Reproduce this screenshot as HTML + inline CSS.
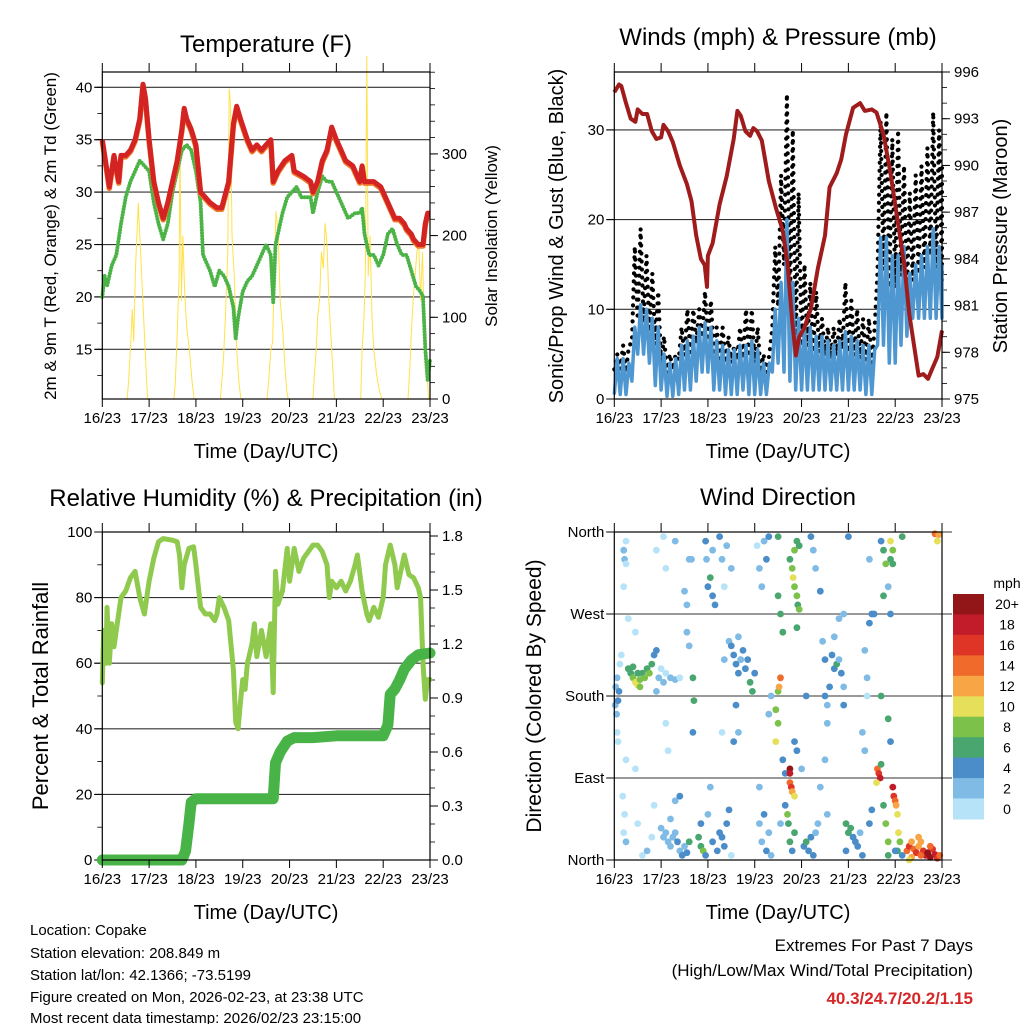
<!DOCTYPE html>
<html><head><meta charset="utf-8"><style>
html,body{margin:0;padding:0;background:#fff;}
svg text{font-family:"Liberation Sans",Arial,sans-serif;fill:#000;}
</style></head><body>
<svg id="fig" xmlns="http://www.w3.org/2000/svg" width="1024" height="1024" viewBox="0 0 1024 1024">
<rect width="1024" height="1024" fill="#fff"/>
<g id="layer"></g>
<text x="266" y="52" font-size="24" text-anchor="middle">Temperature (F)</text>
<text x="778" y="45" font-size="24" text-anchor="middle">Winds (mph) &amp; Pressure (mb)</text>
<text x="266" y="506" font-size="24" text-anchor="middle">Relative Humidity (%) &amp; Precipitation (in)</text>
<text x="778" y="505" font-size="24" text-anchor="middle">Wind Direction</text>
<text x="266" y="458" font-size="20" text-anchor="middle">Time (Day/UTC)</text>
<text x="778" y="458" font-size="20" text-anchor="middle">Time (Day/UTC)</text>
<text x="266" y="919" font-size="20" text-anchor="middle">Time (Day/UTC)</text>
<text x="778" y="919" font-size="20" text-anchor="middle">Time (Day/UTC)</text>
<text transform="translate(56,236) rotate(-90)" font-size="17" text-anchor="middle">2m &amp; 9m T (Red, Orange) &amp; 2m Td (Green)</text>
<text transform="translate(497,236) rotate(-90)" font-size="17" text-anchor="middle">Solar Insolation (Yellow)</text>
<text transform="translate(563,236) rotate(-90)" font-size="20" text-anchor="middle">Sonic/Prop Wind &amp; Gust (Blue, Black)</text>
<text transform="translate(1007,236) rotate(-90)" font-size="20" text-anchor="middle">Station Pressure (Maroon)</text>
<text transform="translate(48,696) rotate(-90)" font-size="22" text-anchor="middle">Percent &amp; Total Rainfall</text>
<text transform="translate(541,696) rotate(-90)" font-size="21" text-anchor="middle">Direction (Colored By Speed)</text>
<g font-size="15">
<text x="30" y="935">Location: Copake</text>
<text x="30" y="958">Station elevation: 208.849 m</text>
<text x="30" y="980">Station lat/lon: 42.1366; -73.5199</text>
<text x="30" y="1002">Figure created on Mon, 2026-02-23, at 23:38 UTC</text>
<text x="30" y="1023">Most recent data timestamp: 2026/02/23 23:15:00</text>
</g>
<g font-size="17" text-anchor="end">
<text x="973" y="951">Extremes For Past 7 Days</text>
<text x="973" y="976">(High/Low/Max Wind/Total Precipitation)</text>
<text x="973" y="1004" fill="#d62728" style="fill:#d62728;font-weight:bold">40.3/24.7/20.2/1.15</text>
</g>
</svg>
<script>
// ---------- data ----------
const dayLabels=["16/23","17/23","18/23","19/23","20/23","21/23","22/23","23/23"];
const tempDays=[0,0.1,0.15,0.25,0.35,0.4,0.5,0.6,0.7,0.8,0.87,0.92,1.0,1.1,1.2,1.3,1.4,1.5,1.6,1.7,1.75,1.8,1.9,2.0,2.1,2.3,2.45,2.55,2.7,2.8,2.87,2.95,3.1,3.2,3.3,3.4,3.5,3.6,3.65,3.75,3.9,4.05,4.1,4.3,4.45,4.5,4.6,4.7,4.8,4.9,5.0,5.1,5.2,5.35,5.45,5.5,5.55,5.6,5.7,5.8,5.95,6.05,6.15,6.25,6.35,6.45,6.5,6.6,6.65,6.75,6.85,6.9,6.95,7.0];
const tempVals=[35,32,30.5,33.5,31,33.5,33.5,34,35,37,40.3,39,35,31,29,27.5,29,31,33,36,38,37,36,34.5,30,29,28.5,28.5,31,36.5,38.2,37,35,34,34.5,34,34.5,35,31,32,33,33.5,32,31.5,31,30,31,33,34,36.2,35,34,33,32.5,31.5,31,32.5,31,31,31,30.5,29.5,28.5,27.5,27.5,27,26.5,26,25.5,25,25,27,28,28];
const dewDays=[0,0.05,0.1,0.2,0.3,0.4,0.5,0.6,0.7,0.8,0.9,1.0,1.1,1.2,1.3,1.4,1.5,1.6,1.7,1.8,1.9,2.0,2.1,2.15,2.3,2.4,2.5,2.6,2.7,2.8,2.85,2.9,3.0,3.1,3.2,3.3,3.4,3.5,3.6,3.65,3.7,3.75,3.85,3.95,4.05,4.15,4.25,4.35,4.45,4.5,4.6,4.7,4.8,4.9,5.0,5.1,5.25,5.4,5.5,5.55,5.6,5.7,5.8,5.9,6.0,6.1,6.2,6.3,6.4,6.5,6.6,6.7,6.8,6.85,6.9,6.95,7.0];
const dewVals=[20,22,21,23,24,27,29.5,31,32,33,32.5,32,29,27,25.5,27,30,32,34,34.5,34,32,29,24,22.5,21,22.5,22,21,19,16,18,20.5,21.5,22,23,24,25,24,19.5,25,26,28,29.5,30,30.5,29.5,29.5,29.5,28,30,31.5,31,31,30,29,27.5,28,28,28.5,26,24,24,23,24,26,26.5,25,24,24,22.5,21,20.5,20,15,12,14];
const solarDays=[0.53,0.56,0.6,0.64,0.67,0.71,0.77,0.8,0.85,0.9,0.94,0.97,1.53,1.56,1.6,1.64,1.66,1.69,1.72,1.76,1.8,1.86,1.92,1.96,2.52,2.55,2.59,2.63,2.68,2.71,2.74,2.77,2.82,2.87,2.92,2.96,3.52,3.55,3.6,3.64,3.67,3.71,3.76,3.8,3.86,3.9,3.94,3.97,4.5,4.53,4.57,4.6,4.64,4.68,4.72,4.76,4.8,4.84,4.9,4.96,5.52,5.55,5.59,5.62,5.65,5.68,5.72,5.76,5.8,5.86,5.92,5.97,6.53,6.57,6.6,6.64,6.68,6.72,6.76,6.8,6.84,6.88,6.93,6.97];
const solarVals=[0,20,60,110,70,160,240,200,140,80,30,0,0,20,80,150,310,120,200,130,90,60,20,0,0,20,50,100,180,380,360,200,150,60,20,0,0,20,60,70,150,230,200,120,80,40,10,0,0,30,60,100,120,180,160,215,190,120,60,0,0,60,100,160,420,150,200,100,60,30,10,0,0,40,80,120,150,180,190,120,180,80,40,0];
const presDays=[0,0.1,0.15,0.25,0.35,0.45,0.5,0.6,0.7,0.8,0.9,1.0,1.05,1.15,1.25,1.4,1.55,1.65,1.75,1.85,1.93,1.98,2.0,2.1,2.25,2.4,2.55,2.63,2.7,2.8,2.9,2.97,3.05,3.15,3.3,3.45,3.6,3.7,3.8,3.88,3.95,4.05,4.2,4.35,4.5,4.6,4.75,4.85,4.95,5.1,5.25,5.35,5.5,5.6,5.75,5.9,6.0,6.1,6.2,6.3,6.4,6.5,6.6,6.7,6.8,6.9,7.0];
const presVals=[994.7,995.2,995.1,994,993,992.8,993.6,993.3,993.3,992.2,991.7,991.8,992.6,992.2,991.5,990,988.8,987.7,985.5,984,983.6,982.2,984.2,985,987.5,989.3,991.7,993.5,993.2,992.2,991.9,992.4,992.2,991.6,989,987.3,985.8,983.7,980,977.8,979,979.5,980.8,983.4,985.5,988.6,989.5,990.4,992,993.7,994,993.5,993.6,993.4,992,989.5,987.5,985.5,983.5,980.5,978.5,976.5,976.6,976.3,977,977.7,979.4];
const windHi=[4.5,4.5,4,8,10.5,10,9,8,5,4,4.5,6,6.5,7,8,8.5,8,6.5,6,5.5,5.5,6,6,6.5,5.5,4,4,10,13,20,13,9,8,8,7,7,6.5,6,6.5,7.5,7,6.5,6,6,5.5,18,18,16,16,17,14,15,16,17,19,17,15];
const windLo=[0.5,0.5,0.5,2,5,5,4,1.5,1,0.3,0.3,0.5,1,1,2,3,3,1,1,0.5,0.5,0.5,1,0.5,0.5,0.5,0.5,3,4,3,2,1,1,1,1,1,1,1,1,1,1,1,1,0.5,0.5,6,6,4,4,6,7,9,9,9,9,9,9];
const gustHi=[5,6,6,17,19,16,14,12,7,5,5,8,10,10,10,12,11,8,8,7,6,8,10,10,8,5,5,17,25,34,30,23,15,13,12,9,8,8,9,13,11,10,9,9,8,31,32,29,30,26,23,25,26,28,32,30,26];
const rhDays=[0,0.03,0.08,0.1,0.15,0.2,0.25,0.3,0.4,0.5,0.6,0.7,0.8,0.9,1.0,1.1,1.2,1.3,1.5,1.6,1.65,1.7,1.75,1.85,1.95,2.0,2.1,2.2,2.3,2.4,2.45,2.5,2.6,2.7,2.8,2.85,2.9,2.95,3.0,3.05,3.1,3.2,3.25,3.3,3.4,3.5,3.6,3.65,3.7,3.75,3.85,3.95,4.0,4.1,4.2,4.3,4.4,4.5,4.6,4.7,4.8,4.85,4.9,5.0,5.1,5.2,5.3,5.4,5.45,5.55,5.65,5.7,5.8,5.9,6.0,6.05,6.15,6.25,6.3,6.45,6.55,6.65,6.75,6.8,6.85,6.9,6.95,7.0];
const rhVals=[54,70,60,77,60,72,65,70,80,82,86,88,80,75,85,92,97,98,97.5,97,93,83,90,95,95.5,90,77,75,75,73,75,80,77,73,58,42,40,48,55,52,60,66,72,62,70,62,72,51,88,78,82,95,85,95,88,92,94,96,96,94,90,80,85,83,85,82,85,90,93,82,75,73,77,74,80,90,96,90,83,93,87,86,83,80,60,49,55,55];
const rainDays=[0,1.7,1.78,1.85,1.9,2.0,3.65,3.7,3.8,3.95,4.1,4.5,5.0,6.0,6.1,6.15,6.25,6.35,6.45,6.6,6.75,7.0];
const rainVals=[0,0,0.05,0.2,0.32,0.34,0.34,0.54,0.6,0.66,0.68,0.68,0.69,0.69,0.75,0.92,0.95,1.0,1.06,1.11,1.14,1.15];
const dirObs=[[0.02,170,3],[0.03,190,3],[0.05,160,2],[0.06,200,3],[0.08,175,4],[0.1,185,4],[0.06,140,1],[0.08,130,1],[0.12,215,1],[0.15,225,1],[0.2,300,1],[0.22,330,2],[0.25,350,1],[0.25,325,1],[0.2,340,2],[0.18,70,1],[0.22,50,1],[0.25,20,2],[0.2,30,1],[0.25,110,1],
[0.3,210,6],[0.35,205,7],[0.4,200,8],[0.45,195,10],[0.5,192,10],[0.55,198,8],[0.6,205,7],[0.65,200,8],[0.7,210,6],[0.4,212,6],[0.5,205,6],[0.55,190,9],[0.75,205,8],[0.8,215,7],[0.85,225,4],[0.9,230,4],[0.9,185,2],[0.45,250,1],[0.45,100,1],[0.5,40,1],[0.6,5,1],[0.7,10,2],[0.8,25,1],[0.85,60,1],[0.9,340,1],[0.3,265,1],
[0.95,200,2],[1.0,210,1],[1.05,195,2],[1.1,205,1],[1.2,200,2],[1.3,198,2],[1.4,200,1],[1.0,35,2],[1.05,25,3],[1.1,30,2],[1.15,20,2],[1.2,15,3],[1.25,25,2],[1.3,30,3],[1.35,20,4],[1.4,10,3],[1.45,5,4],[1.5,15,3],[1.55,8,4],[1.6,20,6],[1.2,45,2],[1.3,65,2],[1.4,70,4],[1.1,150,1],[1.15,120,1],[1.3,350,2],[1.05,355,1],[1.1,320,1],[1.5,295,2],[1.55,280,2],[1.6,330,3],[1.55,250,3],[1.6,235,2],[1.68,200,6],[1.7,175,6],[1.68,140,4],[1.65,330,2],
[1.8,25,6],[1.85,15,7],[1.9,10,8],[1.95,5,4],[1.85,40,4],[2.0,50,2],[2.05,80,2],[2.1,20,4],[2.2,10,4],[2.25,30,5],[2.3,25,4],[2.35,15,5],[2.4,40,4],[2.45,55,4],[1.95,350,4],[1.97,330,3],[2.0,300,4],[2.05,310,6],[2.1,290,4],[2.15,280,4],[2.1,340,3],[2.25,355,4],[2.3,330,3],[2.4,345,3],[2.35,300,1],[2.5,320,2],[2.5,5,1],[2.3,140,1],[2.35,220,3],[2.45,240,3],[2.5,235,4],[2.55,225,4],[2.6,215,4],[2.65,205,4],[2.7,220,3],[2.75,230,4],[2.8,210,4],[2.85,220,4],[2.9,195,7],[2.95,185,6],[3.0,205,4],[2.6,170,4],[2.65,140,3],[2.55,130,4],[2.7,220,2],[2.65,245,2],
[3.05,345,1],[3.1,320,3],[3.15,300,2],[3.2,350,3],[3.25,330,4],[3.3,355,4],[3.1,80,3],[3.1,40,2],[3.15,20,2],[3.2,50,4],[3.25,10,4],[3.3,30,3],[3.35,5,2],[3.3,160,3],[3.35,180,3],[3.45,165,8],[3.45,130,10],[3.5,185,8],[3.5,150,8],[3.55,200,14],[3.52,190,12],[3.55,270,6],[3.6,250,6],[3.6,110,4],[3.65,95,4],[3.65,60,4],[3.5,290,6],[3.5,355,6],[3.55,40,2],
[3.75,100,20],[3.75,95,18],[3.75,85,14],[3.78,80,16],[3.8,75,12],[3.85,70,10],[3.7,50,8],[3.72,40,6],[3.75,20,6],[3.8,10,4],[3.85,30,6],[3.75,330,6],[3.8,320,8],[3.85,300,8],[3.9,290,8],[3.92,280,6],[3.95,275,8],[3.85,340,8],[3.9,350,6],[3.95,345,6],[3.9,255,6],[3.82,310,10],[3.85,130,4],[3.9,120,4],[4.0,100,2],
[4.05,15,4],[4.1,20,6],[4.15,10,4],[4.2,25,4],[4.25,5,4],[4.3,30,2],[4.35,40,2],[4.1,180,4],[4.2,355,4],[4.25,340,2],[4.3,320,2],[4.4,295,4],[4.45,240,2],[4.5,220,4],[4.5,180,4],[4.55,170,3],[4.6,190,4],[4.55,150,3],[4.4,80,3],[4.5,110,2],[4.55,50,2],
[4.65,225,4],[4.7,210,4],[4.75,215,6],[4.8,220,3],[4.85,205,4],[4.9,190,3],[4.9,170,4],[4.8,265,3],[4.7,245,2],[4.95,40,6],[5.0,30,6],[5.05,35,6],[5.1,25,5],[5.15,20,4],[5.2,15,4],[5.25,30,3],[5.3,5,4],[4.95,10,4],[4.9,270,3],[5.0,355,4],[5.3,140,2],[5.35,120,3],
[5.35,230,2],[5.4,200,2],[5.45,260,4],[5.4,180,1],[5.45,40,4],[5.5,55,4],[5.45,330,2],[5.5,270,4],[5.55,270,4],[5.62,100,14],[5.65,95,16],[5.68,90,18],[5.6,85,10],[5.7,105,6],[5.75,60,6],[5.8,40,8],[5.85,20,8],[5.85,5,6],[5.7,350,4],[5.75,340,6],[5.8,325,8],[5.75,290,6],[5.85,300,3],[5.9,270,4],[5.9,350,10],[5.95,340,8],[5.9,330,6],[5.95,325,6],[5.7,180,6],[5.85,155,6],[5.9,130,4],
[5.95,80,18],[5.97,70,16],[6.0,65,14],[6.02,60,12],[6.05,50,10],[6.07,30,10],[6.1,20,8],[6.05,10,6],[6.15,5,4],[6.15,355,6],[6.0,10,4],
[6.25,10,14],[6.3,15,16],[6.35,20,12],[6.4,12,14],[6.45,8,16],[6.5,15,12],[6.55,20,12],[6.6,10,16],[6.65,5,18],[6.7,8,20],[6.75,3,20],[6.8,12,16],[6.85,6,18],[6.9,2,16],[6.95,5,14],[6.35,3,12],[6.55,5,14],[6.75,15,14],[6.85,358,14],[6.9,350,10],[6.93,357,12],[6.3,0,10],[6.5,25,12]];
const speedLabels=["20+","18","16","14","12","10","8","6","4","2","0"];
const speedColors=["#921518","#c21b2a","#de3527","#ef6a2b","#f7a545","#e6df5a","#7cc24a","#49a66f","#4a8dc8","#7fbbe5","#b7e3f8"];

// ---------- helpers ----------
const NS="http://www.w3.org/2000/svg";
const layer=document.getElementById('layer');
function mk(tag,attrs,parent){const e=document.createElementNS(NS,tag);for(const k in attrs)e.setAttribute(k,attrs[k]);(parent||layer).appendChild(e);return e;}
function lin(d0,d1,r0,r1){return v=>r0+(v-d0)*(r1-r0)/(d1-d0);}
function pathOf(xs,ys,fx,fy){return xs.map((d,i)=>(i?'L':'M')+fx(d).toFixed(1)+','+fy(ys[i]).toFixed(1)).join('');}

function frame(x0,x1,y0,y1,name){
  const g=mk('g',{});
  
  
  mk('rect',{x:x0,y:y0,width:x1-x0,height:y1-y0,fill:'none',stroke:'#000','stroke-width':1.2},g);
  const fx=lin(0,7,x0,x1);
  dayLabels.forEach((lab,i)=>{
    const x=fx(i);
    mk('line',{x1:x,x2:x,y1:y1,y2:y1+8,stroke:'#000'},g);
    mk('line',{x1:x,x2:x,y1:y0,y2:y0-9,stroke:'#000'},g);
    const t=mk('text',{x:x,y:y1+24,'font-size':15,'text-anchor':'middle'},g);
    t.textContent=lab;
    
    
  });
  return fx;
}
function yTicks(vals,labels,fy,x0,x1,side,grid,g){
  vals.forEach((v,i)=>{
    const y=fy(v);
    if(grid) mk('line',{x1:x0-8,x2:x1,y1:y,y2:y,stroke:'#333','stroke-width':1.1},g);
    if(side==='L'){mk('line',{x1:x0-8,x2:x0,y1:y,y2:y,stroke:'#000'},g);}
    else{mk('line',{x1:x1,x2:x1+8,y1:y,y2:y,stroke:'#000'},g);}
    const t=mk('text',{x:side==='L'?x0-10:x1+12,y:y+5,'font-size':15,'text-anchor':side==='L'?'end':'start'},g);
    t.textContent=labels[i];
    
    
  });
}
function minor(vals,fy,x,dir,g){vals.forEach(v=>{const y=fy(v);mk('line',{x1:x,x2:x+dir*5,y1:y,y2:y,stroke:'#000','stroke-width':0.8},g);});}
function range(a,b,s){const r=[];for(let v=a;v<=b+1e-9;v+=s)r.push(+v.toFixed(3));return r;}

// ---------- Panel 1: temperature ----------
(function(){
  const x0=102.3,x1=430,y0=72,y1=399;
  const fx=lin(0,7,x0,x1), fT=lin(10.26,41.46,y1,y0), fS=lin(0,400,y1,y1-326.8);
  const g=mk('g',{});
  
  
  yTicks([15,20,25,30,35,40],["15","20","25","30","35","40"],fT,x0,x1,'L',true,g);
  yTicks([0,100,200,300],["0","100","200","300"],fS,x0,x1,'R',false,g);
  minor(range(12.5,40,2.5),fT,x0,-1,g);
  minor(range(20,400,20),fS,x1,1,g);
  const s=mk('path',{d:pathOf(solarDays,solarVals,fx,fS),fill:'none',stroke:'#ffe14a','stroke-width':1},g);
  
  
  const d=mk('path',{d:pathOf(dewDays,dewVals,fx,fT),fill:'none',stroke:'#4cb447','stroke-width':4,'stroke-dasharray':'0 3','stroke-linecap':'round','stroke-linejoin':'round'},g);
  
  
  const o=mk('path',{d:pathOf(tempDays,tempVals,fx,fT),fill:'none',stroke:'#f07a2a','stroke-width':5.5,'stroke-linejoin':'round',transform:'translate(0,1.5)'},g);
  
  
  const r=mk('path',{d:pathOf(tempDays,tempVals,fx,fT),fill:'none',stroke:'#d42323','stroke-width':5,'stroke-linejoin':'round'},g);
  
  
  frame(x0,x1,y0,y1,'temperature');
})();

// ---------- Panel 2: wind & pressure ----------
(function(){
  const x0=614.3,x1=942,y0=72,y1=399;
  const fx=lin(0,7,x0,x1), fW=lin(0,10,y1,y1-89.7), fP=lin(975,996,y1,y0);
  const g=mk('g',{});
  
  
  yTicks([0,10,20,30],["0","10","20","30"],fW,x0,x1,'L',true,g);
  yTicks([975,978,981,984,987,990,993,996],["975","978","981","984","987","990","993","996"],fP,x0,x1,'R',false,g);
  minor(range(976,995,1),fP,x1,1,g);
  const step=7/(windHi.length-1);
  let gd='',wd='';
  windHi.forEach((h,i)=>{
    const t=i*step;
    gd+=(i?'L':'M')+fx(t).toFixed(1)+','+fW(windLo[i]+(h-windLo[i])*0.7).toFixed(1)+'L'+fx(Math.min(7,t+step/2)).toFixed(1)+','+fW(gustHi[i]).toFixed(1);
    wd+=(i?'L':'M')+fx(t).toFixed(1)+','+fW(windLo[i]).toFixed(1)+'L'+fx(Math.min(7,t+step/2)).toFixed(1)+','+fW(h).toFixed(1);
  });
  const gp=mk('path',{d:gd,fill:'none',stroke:'#000','stroke-width':4.2,'stroke-dasharray':'0 8','stroke-linecap':'round'},g);
  
  
  const wp=mk('path',{d:wd,fill:'none',stroke:'#4f97d1','stroke-width':3.5,'stroke-linejoin':'round'},g);
  
  
  const pp=mk('path',{d:pathOf(presDays,presVals,fx,fP),fill:'none',stroke:'#a01c1c','stroke-width':4,'stroke-linejoin':'round'},g);
  
  
  frame(x0,x1,y0,y1,'wind');
})();

// ---------- Panel 3: RH & precip ----------
(function(){
  const x0=102.3,x1=430,y0=532,y1=860;
  const fx=lin(0,7,x0,x1), fR=lin(0,100,y1,y0), fIn=lin(0,1.8,y1,536);
  const g=mk('g',{});
  
  
  yTicks([0,20,40,60,80,100],["0","20","40","60","80","100"],fR,x0,x1,'L',true,g);
  yTicks([0,0.3,0.6,0.9,1.2,1.5,1.8],["0.0","0.3","0.6","0.9","1.2","1.5","1.8"],fIn,x0,x1,'R',false,g);
  minor(range(10,90,20),fR,x0,-1,g);
  minor(range(0.1,1.7,0.1),fIn,x1,1,g);
  const rh=mk('path',{d:pathOf(rhDays,rhVals,fx,fR),fill:'none',stroke:'#8fca4e','stroke-width':5,'stroke-linejoin':'round','stroke-linecap':'round'},g);
  
  
  const pr=mk('path',{d:pathOf(rainDays,rainVals,fx,fIn),fill:'none',stroke:'#48b448','stroke-width':11,'stroke-linejoin':'round','stroke-linecap':'round'},g);
  
  
  frame(x0,x1,y0,y1,'humidity');
})();

// ---------- Panel 4: wind direction ----------
(function(){
  const x0=614.3,x1=942,y0=532,y1=860;
  const fx=lin(0,7,x0,x1), fD=lin(0,360,y1,y0);
  const g=mk('g',{});
  
  
  yTicks([0,90,180,270,360],["North","East","South","West","North"],fD,x0,x1+10,'L',true,g);
  function col(s){let i=Math.floor(s/2);if(i>10)i=10;return speedColors[10-i];}
  dirObs.forEach(o=>{
    const c=mk('circle',{cx:fx(o[0]).toFixed(1),cy:fD(o[1]).toFixed(1),r:3.4,fill:col(o[2])},g);
    
    
  });
  frame(x0,x1,y0,y1,'wind-direction');
  const cb=mk('g',{});
  
  
  const h=225/speedLabels.length;
  const mt=mk('text',{x:1007,y:588,'font-size':14,'text-anchor':'middle'},cb);
  mt.textContent='mph';
  
  
  speedLabels.forEach((lab,i)=>{
    const r=mk('rect',{x:953,y:(594+i*h).toFixed(1),width:31,height:(h+0.5).toFixed(1),fill:speedColors[i]},cb);
    
    
    const t=mk('text',{x:1007,y:(594+i*h+h/2+5).toFixed(1),'font-size':14,'text-anchor':'middle'},cb);
    t.textContent=lab;
    
    
  });
})();
</script>
</body></html>
